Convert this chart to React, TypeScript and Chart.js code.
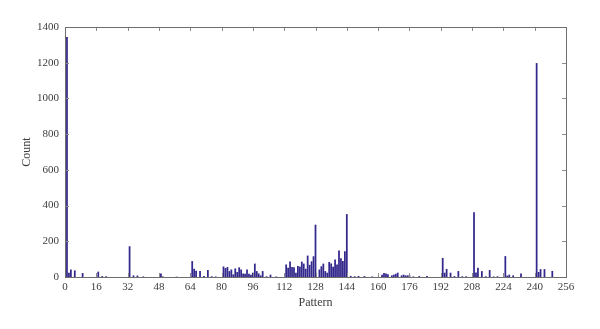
import { useEffect, useRef } from "react";
import { Chart, registerables } from "chart.js";

Chart.register(...registerables);

const patterns = [
  1, 2, 3, 5, 9, 17, 19, 21, 33, 35, 37, 40, 49, 50, 57,
  65, 66, 67, 69, 71, 73, 75, 77,
  81, 82, 83, 84, 85, 86, 87, 88, 89, 90, 91, 92, 93, 94, 95, 96,
  97, 98, 99, 100, 101, 103, 105, 108,
  113, 114, 115, 116, 117, 118, 119, 120, 121, 122, 123, 124, 125, 126, 127, 128,
  130, 131, 132, 133, 134, 135, 136, 137, 138, 139, 140, 141, 142, 143, 144,
  146, 148, 150, 153, 157,
  162, 163, 164, 165, 167, 168, 169, 170, 172, 173, 174, 175, 176,
  178, 181, 185,
  193, 194, 195, 197, 199, 201, 203, 205,
  209, 210, 211, 213, 215, 217, 219, 221,
  225, 226, 227, 229, 233,
  241, 242, 243, 245, 249,
];

const counts = [
  1344, 24, 42, 37, 22, 30, 5, 4, 172, 9, 8, 3, 20, 3, 2,
  89, 46, 35, 34, 6, 39, 4, 3,
  59, 50, 56, 33, 42, 15, 48, 28, 54, 42, 20, 18, 42, 18, 13, 24,
  75, 33, 20, 9, 33, 4, 13, 3,
  70, 52, 87, 56, 54, 24, 61, 58, 86, 75, 46, 120, 68, 88, 116, 293,
  42, 60, 75, 33, 24, 84, 76, 58, 98, 70, 148, 105, 90, 144, 352,
  6, 4, 6, 5, 3,
  13, 22, 20, 16, 9, 13, 18, 24, 9, 13, 9, 9, 11,
  3, 5, 5,
  107, 24, 45, 24, 5, 33, 4, 4,
  363, 25, 52, 33, 4, 39, 3, 4,
  117, 8, 13, 9, 20,
  1198, 28, 44, 44, 34,
];

const xTicks = [0, 16, 32, 48, 64, 80, 96, 112, 128, 144, 160, 176, 192, 208, 224, 240, 256];
const yTicks = [0, 200, 400, 600, 800, 1000, 1200, 1400];

const FONT = "'Liberation Serif', 'Times New Roman', serif";
const TEXT = "#3c3c3c";

const frameTicks = {
  id: "frameTicks",
  afterDraw(chart: any) {
    const { ctx, chartArea } = chart;
    const { left, right, top, bottom } = chartArea;
    const x = chart.scales.x;
    const y = chart.scales.y;
    ctx.save();
    ctx.lineWidth = 1;
    ctx.strokeStyle = "#8c8c8c";
    ctx.beginPath();
    for (const v of xTicks) {
      const px = Math.round(x.getPixelForValue(v)) + 0.5;
      ctx.moveTo(px, bottom);
      ctx.lineTo(px, bottom - 4);
      ctx.moveTo(px, top);
      ctx.lineTo(px, top + 4);
    }
    for (const v of yTicks) {
      const py = Math.round(y.getPixelForValue(v)) + 0.5;
      ctx.moveTo(left, py);
      ctx.lineTo(left + 4, py);
      ctx.moveTo(right, py);
      ctx.lineTo(right - 4, py);
    }
    ctx.stroke();
    ctx.strokeStyle = "#6e6e6e";
    ctx.strokeRect(
      Math.round(left) + 0.5,
      Math.round(top) + 0.5,
      Math.round(right - left),
      Math.round(bottom - top)
    );
    ctx.restore();
  },
};

export default function App() {
  const ref = useRef<HTMLCanvasElement | null>(null);

  useEffect(() => {
    if (!ref.current) return;
    const chart = new Chart(ref.current, {
      type: "bar",
      data: {
        datasets: [
          {
            data: patterns.map((p, i) => ({ x: p, y: counts[i] })),
            backgroundColor: "#33288c",
            borderWidth: 0,
            barPercentage: 0.9,
            categoryPercentage: 1,
          },
        ],
      },
      options: {
        responsive: false,
        animation: false,
        events: [],
        layout: { padding: { top: 27, right: 34, left: 0, bottom: 0 } },
        plugins: { legend: { display: false }, tooltip: { enabled: false } },
        scales: {
          x: {
            type: "linear",
            min: 0,
            max: 256,
            offset: false,
            grid: { display: false, drawTicks: false, offset: false },
            border: { display: false },
            afterBuildTicks: (scale: any) => {
              scale.ticks = xTicks.map((v) => ({ value: v }));
            },
            afterFit: (scale: any) => {
              scale.height = 52;
            },
            ticks: {
              autoSkip: false,
              maxRotation: 0,
              padding: 4,
              color: TEXT,
              font: { family: FONT, size: 11 },
              callback: (v: any) => String(v),
            },
            title: {
              display: true,
              text: "Pattern",
              color: TEXT,
              font: { family: FONT, size: 12 },
              padding: { top: 4, bottom: 19 },
            },
          },
          y: {
            type: "linear",
            min: 0,
            max: 1400,
            grid: { display: false, drawTicks: false },
            border: { display: false },
            afterBuildTicks: (scale: any) => {
              scale.ticks = yTicks.map((v) => ({ value: v }));
            },
            afterFit: (scale: any) => {
              scale.width = 65;
            },
            ticks: {
              padding: 6,
              color: TEXT,
              font: { family: FONT, size: 11 },
              callback: (v: any) => String(v),
            },
            title: {
              display: true,
              text: "Count",
              color: TEXT,
              font: { family: FONT, size: 12 },
              padding: { top: 20, bottom: 4 },
            },
          },
        },
      },
      plugins: [frameTicks],
    });
    return () => chart.destroy();
  }, []);

  return (
    <div style={{ position: "absolute", left: 0, top: 0, width: 600, height: 329, background: "#fff" }}>
      <canvas ref={ref} width={600} height={329} style={{ width: 600, height: 329, display: "block" }} />
    </div>
  );
}
